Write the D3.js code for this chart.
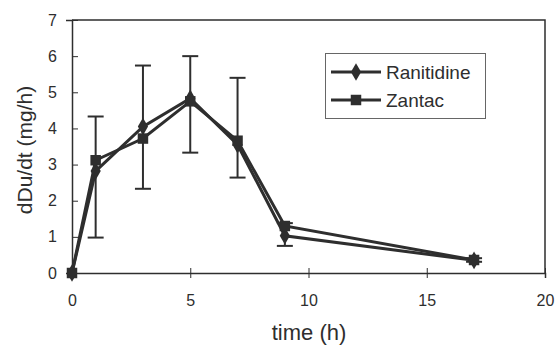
<!DOCTYPE html>
<html>
<head>
<meta charset="utf-8">
<script src="https://cdn.jsdelivr.net/npm/d3@7"></script>
<style>
  html, body { margin: 0; padding: 0; background: #fff; }
  svg { display: block; }
</style>
</head>
<body>
<svg id="chart" width="558" height="353"></svg>
<script>
const times = [0, 1, 3, 5, 7, 9, 17]
const ranitidine = [0, 2.82, 4.05, 4.83, 3.55, 1.03, 0.35]
const zantac = [0, 3.12, 3.72, 4.75, 3.66, 1.3, 0.36]
const errLow = [0, 0.98, 2.33, 3.33, 2.64, 0.75, 0.31]
const errHigh = [0, 4.33, 5.74, 6.0, 5.4, 1.38, 0.41]
const xTicks = [0, 5, 10, 15, 20]
const yTicks = [0, 1, 2, 3, 4, 5, 6, 7]

const ink = '#2e2e2e'
const font = 'Liberation Sans, Arial, sans-serif'
const svg = d3.select('#chart')
const margin = { left: 72, right: 13, top: 20, bottom: 80 }
const width = 558, height = 353

const x = d3.scaleLinear().domain([0, 20]).range([margin.left, width - margin.right])
const y = d3.scaleLinear().domain([0, 7]).range([height - margin.bottom, margin.top])

// plot frame (top and right)
svg.append('path')
  .attr('d', `M${x(0)},${y(7)}H${x(20)}V${y(0)}`)
  .attr('fill', 'none').attr('stroke', ink).attr('stroke-width', 1.5)

// axes
const yAxis = svg.append('g').attr('transform', `translate(${x(0)},0)`)
  .call(d3.axisLeft(y).tickValues(yTicks).tickFormat(d3.format('d')).tickSize(6).tickPadding(9))
yAxis.selectAll('.tick line').attr('x2', 6)
const xAxis = svg.append('g').attr('transform', `translate(0,${y(0)})`)
  .call(d3.axisBottom(x).tickValues(xTicks).tickFormat(d3.format('d')).tickSize(5).tickPadding(17))
xAxis.selectAll('.tick line').attr('y1', -5)

svg.selectAll('.domain').attr('stroke', ink).attr('stroke-width', 1.5)
svg.selectAll('.tick line').attr('stroke', ink).attr('stroke-width', 1)
svg.selectAll('.tick text')
  .attr('fill', ink)
  .attr('font-family', font)
  .attr('font-size', 16)

// axis titles
svg.append('text')
  .attr('x', 309)
  .attr('y', 340)
  .attr('text-anchor', 'middle')
  .attr('fill', ink)
  .attr('font-family', font)
  .attr('font-size', 22)
  .text('time (h)')

svg.append('text')
  .attr('transform', `translate(32,150) rotate(-90)`)
  .attr('text-anchor', 'middle')
  .attr('fill', ink)
  .attr('font-family', font)
  .attr('font-size', 21)
  .text('dDu/dt (mg/h)')

// error bars
const bars = svg.append('g').attr('stroke', ink).attr('stroke-width', 2)
times.forEach((t, i) => {
  if (errHigh[i] === errLow[i]) return
  bars.append('line').attr('x1', x(t)).attr('x2', x(t)).attr('y1', y(errLow[i])).attr('y2', y(errHigh[i]))
  ;[errLow[i], errHigh[i]].forEach(v => {
    bars.append('line').attr('x1', x(t) - 8).attr('x2', x(t) + 8).attr('y1', y(v)).attr('y2', y(v))
  })
})

const line = d3.line().x((d, i) => x(times[i])).y(d => y(d))

function drawSeries(vals, symbolType, size) {
  svg.append('path')
    .datum(vals)
    .attr('d', line)
    .attr('fill', 'none')
    .attr('stroke', ink)
    .attr('stroke-width', 3)
  svg.append('g').selectAll('path')
    .data(vals)
    .join('path')
    .attr('transform', (d, i) => `translate(${x(times[i])},${y(d)})`)
    .attr('d', d3.symbol(symbolType, size))
    .attr('fill', ink)
}
drawSeries(ranitidine, d3.symbolDiamond, 90)
drawSeries(zantac, d3.symbolSquare, 110)

// legend
const legend = svg.append('g')
legend.append('rect')
  .attr('x', 325.5).attr('y', 53.5).attr('width', 160).attr('height', 65)
  .attr('fill', '#fff').attr('stroke', '#666').attr('stroke-width', 1)
const items = [
  { name: 'Ranitidine', sym: d3.symbolDiamond, size: 90 },
  { name: 'Zantac', sym: d3.symbolSquare, size: 110 }
]
items.forEach((it, i) => {
  const ly = 72 + i * 28
  legend.append('line').attr('x1', 331).attr('x2', 381).attr('y1', ly).attr('y2', ly)
    .attr('stroke', ink).attr('stroke-width', 3)
  legend.append('path').attr('transform', `translate(356,${ly})`)
    .attr('d', d3.symbol(it.sym, it.size)).attr('fill', ink)
  legend.append('text').attr('x', 386).attr('y', ly).attr('dy', '0.35em')
    .attr('fill', ink)
    .attr('font-family', font)
    .attr('font-size', 19)
    .text(it.name)
})
</script>
</body>
</html>
